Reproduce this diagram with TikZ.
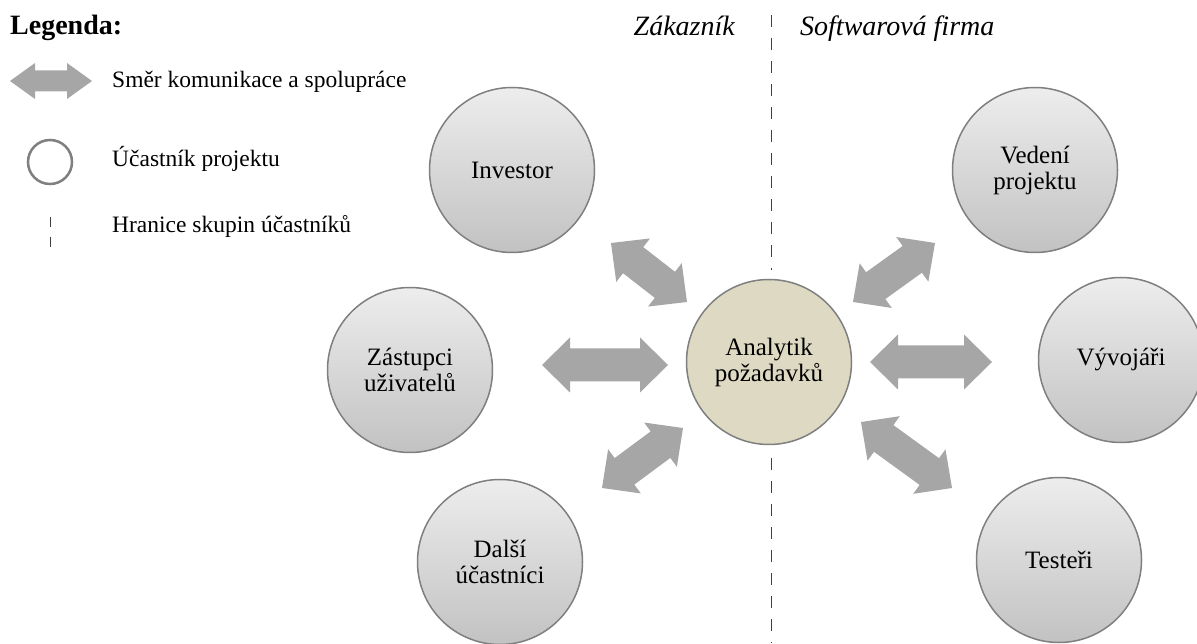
\documentclass[tikz,border=0pt]{standalone}
\usepackage{fontspec}
\setmainfont{Liberation Serif}
\usetikzlibrary{calc}

\definecolor{arrowgray}{HTML}{A6A6A6}
\definecolor{rimgray}{HTML}{7F7F7F}
\definecolor{analystfill}{HTML}{DDD9C3}
\definecolor{shadetop}{HTML}{EDEDED}
\definecolor{shadebot}{HTML}{C2C2C2}
\definecolor{linegray}{HTML}{404040}

% Wide two-headed arrow between two named points:
% #1, #2 ends, #3 half head width, #4 half shaft width, #5 head length
\newcommand\widearrow[5]{%
  \fill[arrowgray] (#1)
    -- ($(#1)!#5!(#2)!#3!90:(#2)$)
    -- ($(#1)!#5!(#2)!#4!90:(#2)$)
    -- ($(#2)!#5!(#1)!#4!-90:(#1)$)
    -- ($(#2)!#5!(#1)!#3!-90:(#1)$)
    -- (#2)
    -- ($(#2)!#5!(#1)!#3!90:(#1)$)
    -- ($(#2)!#5!(#1)!#4!90:(#1)$)
    -- ($(#1)!#5!(#2)!#4!-90:(#2)$)
    -- ($(#1)!#5!(#2)!#3!-90:(#2)$)
    -- cycle;%
}

\tikzset{
  actor/.style={circle, draw=rimgray, line width=1.5pt, minimum size=165pt,
    inner sep=0pt, top color=shadetop, bottom color=shadebot, align=center,
    font=\fontsize{25}{26}\selectfont},
  analyst/.style={circle, draw=rimgray, line width=1.5pt, minimum size=165pt,
    inner sep=0pt, fill=analystfill, align=center,
    font=\fontsize{25}{26}\selectfont},
  legendtext/.style={anchor=base west, inner sep=0pt, font=\fontsize{23.5}{25}\selectfont},
  grouptitle/.style={inner sep=0pt, font=\fontsize{28}{30}\selectfont\itshape},
  boundary/.style={draw=linegray, line width=0.9pt, dash pattern=on 12pt off 11pt},
}

\begin{document}
\begin{tikzpicture}[x=1pt, y=1pt]
  \useasboundingbox (0,0) rectangle (1197,643);

  % legend
  \node[anchor=base west, inner sep=0pt, font=\fontsize{28}{30}\selectfont\bfseries]
    (legtitle) at (10,608) {Legenda:};
  \coordinate (la1) at (10,562);
  \coordinate (la2) at (92,562);
  \widearrow{la1}{la2}{18pt}{10.5pt}{25pt}
  \node[legendtext] (legarrow) at (112,555) {Směr komunikace a spolupráce};
  \node[circle, draw=rimgray, line width=2.5pt, minimum size=44pt, inner sep=0pt]
    (legcircle) at (50,481) {};
  \node[legendtext] (legactor) at (112,476) {Účastník projektu};
  \coordinate (ld1) at (50,426);
  \coordinate (ld2) at (50,395);
  \draw[draw=linegray, line width=0.9pt, dash pattern=on 10pt off 10pt] (ld1) -- (ld2);
  \node[legendtext] (legline) at (112,410) {Hranice skupin účastníků};

  % group titles and boundary
  \node[grouptitle, anchor=base east] (customer) at (735,607) {Zákazník};
  \node[grouptitle, anchor=base west] (vendor) at (800,607) {Softwarová firma};

  % participants
  \node[analyst] (ana) at (769,281) {Analytik\\požadavků};
  \node[actor] (inv) at (512,473) {Investor};
  \node[actor] (zas) at (410,273) {Zástupci\\uživatelů};
  \node[actor] (dal) at (500,81) {Další\\účastníci};
  \node[actor] (ved) at (1035,473) {Vedení\\projektu};
  \node[actor] (vyv) at (1121,283) {Vývojáři};
  \node[actor] (tes) at (1059,83) {Testeři};

  \coordinate (bt) at (771,628);
  \coordinate (bm1) at (771,373);
  \coordinate (bm2) at (771,185);
  \coordinate (bb) at (771,0);
  \draw[boundary] (bt) -- (bm1);
  \draw[boundary] (bm2) -- (bb);

  % communication arrows
  \coordinate (a1s) at (611,400); \coordinate (a1e) at (687,341);
  \coordinate (a2s) at (542,278); \coordinate (a2e) at (668,278);
  \coordinate (a3s) at (602,155); \coordinate (a3e) at (683,215);
  \coordinate (a4s) at (853,341); \coordinate (a4e) at (935,400);
  \coordinate (a5s) at (870,281); \coordinate (a5e) at (992,281);
  \coordinate (a6s) at (861,221); \coordinate (a6e) at (952,155);
  \widearrow{a1s}{a1e}{27.5pt}{16.5pt}{28pt}
  \widearrow{a2s}{a2e}{27.5pt}{16.5pt}{28pt}
  \widearrow{a3s}{a3e}{27.5pt}{16.5pt}{28pt}
  \widearrow{a4s}{a4e}{27.5pt}{16.5pt}{28pt}
  \widearrow{a5s}{a5e}{27.5pt}{16.5pt}{28pt}
  \widearrow{a6s}{a6e}{27.5pt}{16.5pt}{28pt}
\end{tikzpicture}
\end{document}
